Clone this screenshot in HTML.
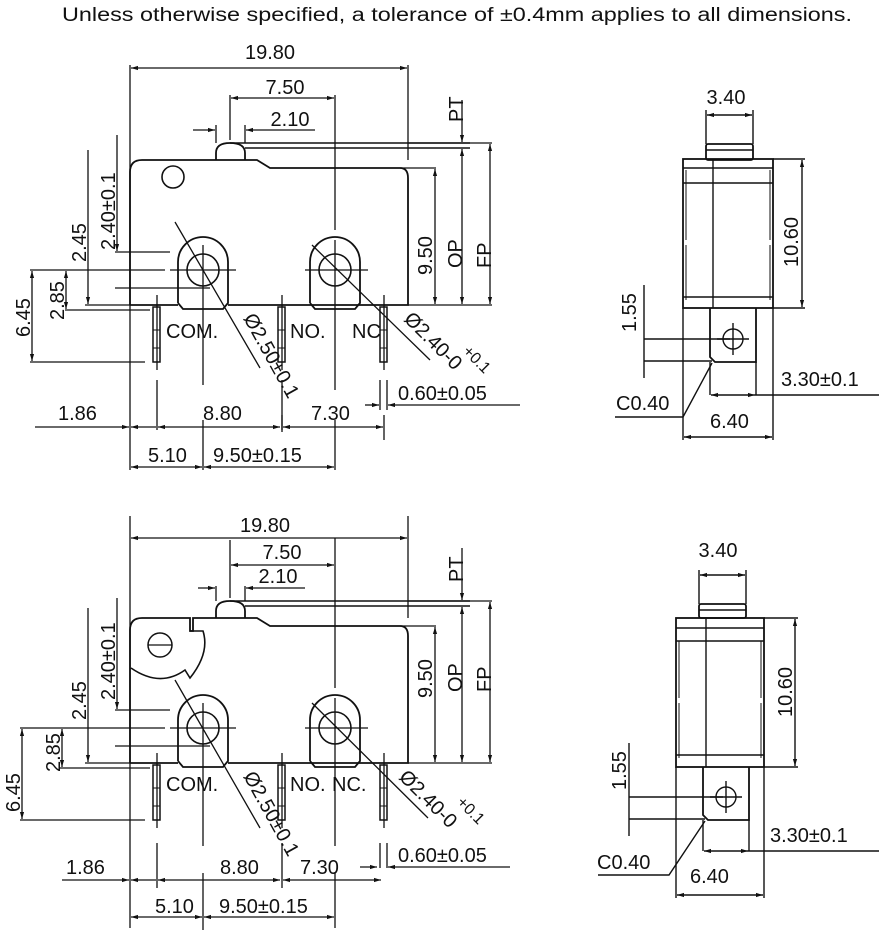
<!DOCTYPE html>
<html><head><meta charset="utf-8"><style>
html,body{margin:0;padding:0;background:#fff}
svg{display:block}
text{font-family:"Liberation Sans",sans-serif;font-size:20px;fill:#111}
</style></head><body>
<svg width="879" height="930" viewBox="0 0 879 930" xmlns="http://www.w3.org/2000/svg">
<defs>
<marker id="a" viewBox="0 0 10 10" refX="10" refY="5" markerWidth="7" markerHeight="7" orient="auto-start-reverse" markerUnits="userSpaceOnUse"><path d="M0,2 L10,5 L0,8 Z" fill="#111"/></marker>
</defs>
<text x="457" y="21" text-anchor="middle" style="font-size:19px" textLength="790" lengthAdjust="spacingAndGlyphs">Unless otherwise specified, a tolerance of ±0.4mm applies to all dimensions.</text>

<!-- ============ TOP LEFT ============ -->
<g stroke="#111" stroke-width="1.3" fill="none">
 <path d="M130,305 L130,172 Q130,160 142,160 L257,160 L270,168 L400,168 Q408,168 408,178 L408,305 L228,305 M178,305 L130,305" stroke-width="1.8"/>
 <path d="M216,160 L216,153 Q216,143 230,143 Q245,143 245,153 L245,160" stroke-width="1.8"/>
 <path d="M230,143 L470,143 M245,148 L470,148" stroke-width="1.5"/>
 <circle cx="173" cy="177" r="11" stroke-width="1.6"/>
 <path d="M178,303 L178,262 A25,25 0 0 1 228,262 L228,303 L223,309 L183,309 L178,303" stroke-width="1.8"/>
 <circle cx="203" cy="270" r="16" stroke-width="1.6"/>
 <path d="M310,303 L310,262 A25,25 0 0 1 360,262 L360,303 L355,309 L315,309 L310,303" stroke-width="1.8"/>
 <circle cx="335" cy="270" r="16" stroke-width="1.6"/>
 <rect x="153" y="307" width="7" height="55" stroke-width="1.5"/>
 <rect x="278" y="307" width="7" height="55" stroke-width="1.5"/>
 <rect x="380" y="307" width="7" height="55" stroke-width="1.5"/>
 <path d="M153,330 h7 M153,348 h7 M278,330 h7 M278,348 h7 M380,330 h7 M380,348 h7" stroke-width="1"/>
 <path d="M157,295 v75 M157,380 v50 M282,295 v75 M282,380 v50 M384,295 v75 M380,380 v30 M387,380 v30"/>
 <path d="M203,245 V385 M335,95 V230 M335,240 V390 M203,420 V470 M335,420 V470 M170,270 H236 M305,270 H368"/>
 <path d="M130,65 V470 M408,65 V160"/>
 <path d="M131,68 H407" marker-start="url(#a)" marker-end="url(#a)"/>
 <path d="M230,95 V140" />
 <path d="M231,98 H334" marker-start="url(#a)" marker-end="url(#a)"/>
 <path d="M216,125 V143 M245,125 V143 M193,130 H215" marker-end="url(#a)"/>
 <path d="M315,130 H246" marker-end="url(#a)"/>
 <path d="M400,168 H436 M408,305 H492 M408,143 H492"/>
 <path d="M435,169 V304" marker-start="url(#a)" marker-end="url(#a)"/>
 <path d="M462,100 V142" marker-end="url(#a)"/>
 <path d="M462,149 V304" marker-start="url(#a)" marker-end="url(#a)"/>
 <path d="M490,144 V304" marker-start="url(#a)" marker-end="url(#a)"/>
 <path d="M115,252 H170 M115,288 H210 M85,305 H130 M65,310 H150 M30,270 H165 M30,362 H145"/>
 <path d="M117,135 V251" marker-end="url(#a)"/>
 <path d="M88,150 V304" marker-end="url(#a)"/>
 <path d="M66,271 V309" marker-start="url(#a)" marker-end="url(#a)"/>
 <path d="M32,271 V361" marker-start="url(#a)" marker-end="url(#a)"/>
 <path d="M35,427 H129" marker-end="url(#a)"/>
 <path d="M156,427 H131" marker-end="url(#a)"/>
 <path d="M158,427 H280" marker-start="url(#a)" marker-end="url(#a)"/>
 <path d="M283,427 H383" marker-start="url(#a)" marker-end="url(#a)"/>
 <path d="M365,405 H379" marker-end="url(#a)"/>
 <path d="M520,405 H388" marker-end="url(#a)"/>
 <path d="M131,467 H202" marker-start="url(#a)" marker-end="url(#a)"/>
 <path d="M204,467 H334" marker-start="url(#a)" marker-end="url(#a)"/>
 <path d="M282,415 V432 M384,415 V440"/>
 <path d="M175,222 L260,368 M312,245 L430,360"/>
</g>
<g>
 <text x="270" y="59" text-anchor="middle">19.80</text>
 <text x="285" y="94" text-anchor="middle">7.50</text>
 <text x="290" y="126" text-anchor="middle">2.10</text>
 <text transform="translate(463,122) rotate(-90)" >PT</text>
 <text transform="translate(432,275) rotate(-90)">9.50</text>
 <text transform="translate(462,268) rotate(-90)">OP</text>
 <text transform="translate(491,268) rotate(-90)">FP</text>
 <text transform="translate(115,250) rotate(-90)">2.40±0.1</text>
 <text transform="translate(86,262) rotate(-90)">2.45</text>
 <text transform="translate(64,320) rotate(-90)">2.85</text>
 <text transform="translate(30,337) rotate(-90)">6.45</text>
 <text x="166" y="338">COM.</text>
 <text x="290" y="338">NO.</text>
 <text x="352" y="338">NC</text>
 <text transform="translate(243,318) rotate(61)">Ø2.50±0.1</text>
 <text transform="translate(403,320) rotate(45)">Ø2.40-0</text>
 <text transform="translate(462,352) rotate(45)" style="font-size:16px">+0.1</text>
 <text x="58" y="420">1.86</text>
 <text x="203" y="420">8.80</text>
 <text x="311" y="420">7.30</text>
 <text x="398" y="400">0.60±0.05</text>
 <text x="148" y="462">5.10</text>
 <text x="213" y="462">9.50±0.15</text>
</g>

<!-- ============ TOP RIGHT ============ -->
<g stroke="#111" stroke-width="1.4" fill="none">
 <rect x="706" y="144" width="47" height="16" rx="2" stroke-width="1.8"/>
 <path d="M706,150 H753"/>
 <rect x="683" y="159" width="90" height="149" stroke-width="1.8"/>
 <path d="M683,168 H773 M683,183 H773 M683,297 H773 M713,159 V308"/>
 <path d="M686,170 V240 M770,170 V240 M686,245 V300 M770,245 V300" stroke-width="1"/>
 <path d="M710,308 V357 L715,362 H756 V308" stroke-width="1.8"/>
 <circle cx="733" cy="339" r="10"/>
 <path d="M733,323 V355 M717,339 H749"/>
 <path d="M706,110 V144 M753,110 V144"/>
 <path d="M707,115 H752" marker-start="url(#a)" marker-end="url(#a)"/>
 <path d="M773,159 H805 M773,308 H805"/>
 <path d="M802,160 V307" marker-start="url(#a)" marker-end="url(#a)"/>
 <path d="M644,285 V378 M644,339 H730 M644,361 H712"/>
 <path d="M710,362 V395 M756,362 V395 M773,308 V440 M683,308 V440"/>
 <path d="M711,395 H755" marker-start="url(#a)" marker-end="url(#a)"/>
 <path d="M755,395 H880"/>
 <path d="M684,437 H772" marker-start="url(#a)" marker-end="url(#a)"/>
 <path d="M615,417 H683 L712,363"/>
</g>
<g>
 <text x="726" y="104" text-anchor="middle">3.40</text>
 <text transform="translate(798,267) rotate(-90)">10.60</text>
 <text transform="translate(636,332) rotate(-90)">1.55</text>
 <text x="781" y="386">3.30±0.1</text>
 <text x="616" y="410">C0.40</text>
 <text x="710" y="428">6.40</text>
</g>

<!-- ============ BOTTOM LEFT ============ -->
<g stroke="#111" stroke-width="1.3" fill="none" transform="translate(0,458)">
 <path d="M130,305 L130,172 Q130,160 142,160 L190,160 L190,173 L193,173 L193,160 L257,160 L270,168 L400,168 Q408,168 408,178 L408,305 L228,305 M178,305 L130,305" stroke-width="1.8"/>
 <path d="M190,173 L203,173 Q210,195 190,220 L185,212 Q160,230 131,210" stroke-width="1.6"/>
 <circle cx="160" cy="187" r="12" stroke-width="1.5"/>
 <path d="M148,187 H172" stroke-width="1.3"/>
 <path d="M216,160 L216,153 Q216,143 230,143 Q245,143 245,153 L245,160" stroke-width="1.8"/>
 <path d="M230,143 L470,143 M245,148 L470,148" stroke-width="1.5"/>
 <path d="M178,303 L178,262 A25,25 0 0 1 228,262 L228,303 L223,309 L183,309 L178,303" stroke-width="1.8"/>
 <circle cx="203" cy="270" r="16" stroke-width="1.6"/>
 <path d="M310,303 L310,262 A25,25 0 0 1 360,262 L360,303 L355,309 L315,309 L310,303" stroke-width="1.8"/>
 <circle cx="335" cy="270" r="16" stroke-width="1.6"/>
 <rect x="153" y="307" width="7" height="55" stroke-width="1.5"/>
 <rect x="278" y="307" width="7" height="55" stroke-width="1.5"/>
 <rect x="380" y="307" width="7" height="55" stroke-width="1.5"/>
 <path d="M153,330 h7 M153,348 h7 M278,330 h7 M278,348 h7 M380,330 h7 M380,348 h7" stroke-width="1"/>
 <path d="M157,295 v75 M157,385 v45 M282,295 v75 M282,385 v45 M384,295 v75 M380,385 v25 M387,385 v25"/>
 <path d="M203,245 V388 M335,80 V230 M335,240 V388 M203,415 V475 M335,415 V470 M170,270 H236 M305,270 H368"/>
 <path d="M130,58 V470 M408,58 V160 M230,82 V140 M216,128 V143 M245,128 V143"/>
 <path d="M400,168 H436 M408,305 H492 M408,143 H492"/>
 <path d="M435,169 V304" marker-start="url(#a)" marker-end="url(#a)"/>
 <path d="M462,90 V142" marker-end="url(#a)"/>
 <path d="M462,149 V304" marker-start="url(#a)" marker-end="url(#a)"/>
 <path d="M490,144 V304" marker-start="url(#a)" marker-end="url(#a)"/>
 <path d="M115,252 H170 M115,288 H210 M85,305 H130 M60,310 H150 M20,270 H165 M20,362 H145"/>
 <path d="M117,140 V251" marker-end="url(#a)"/>
 <path d="M88,150 V304" marker-end="url(#a)"/>
 <path d="M62,271 V309" marker-start="url(#a)" marker-end="url(#a)"/>
 <path d="M22,271 V361" marker-start="url(#a)" marker-end="url(#a)"/>
 <path d="M175,222 L260,370 M312,245 L428,360"/>
</g>
<g stroke="#111" stroke-width="1.3" fill="none">
 <path d="M131,538 H407" marker-start="url(#a)" marker-end="url(#a)"/>
 <path d="M231,565 H334" marker-start="url(#a)" marker-end="url(#a)"/>
 <path d="M198,588 H215" marker-end="url(#a)"/>
 <path d="M305,588 H246" marker-end="url(#a)"/>
 <path d="M62,880 H129" marker-end="url(#a)"/>
 <path d="M156,880 H131" marker-end="url(#a)"/>
 <path d="M158,880 H280" marker-start="url(#a)" marker-end="url(#a)"/>
 <path d="M283,880 H381" marker-start="url(#a)" marker-end="url(#a)"/>
 <path d="M360,867 H377" marker-end="url(#a)"/>
 <path d="M510,867 H388" marker-end="url(#a)"/>
 <path d="M131,917 H202" marker-start="url(#a)" marker-end="url(#a)"/>
 <path d="M204,917 H334" marker-start="url(#a)" marker-end="url(#a)"/>
</g>
<g>
 <text x="265" y="532" text-anchor="middle">19.80</text>
 <text x="282" y="559" text-anchor="middle">7.50</text>
 <text x="278" y="583" text-anchor="middle">2.10</text>
 <text transform="translate(463,582) rotate(-90)">PT</text>
 <text transform="translate(432,698) rotate(-90)">9.50</text>
 <text transform="translate(462,692) rotate(-90)">OP</text>
 <text transform="translate(491,692) rotate(-90)">FP</text>
 <text transform="translate(115,700) rotate(-90)">2.40±0.1</text>
 <text transform="translate(86,720) rotate(-90)">2.45</text>
 <text transform="translate(60,772) rotate(-90)">2.85</text>
 <text transform="translate(20,812) rotate(-90)">6.45</text>
 <text x="166" y="791">COM.</text>
 <text x="290" y="791">NO.</text>
 <text x="332" y="791">NC.</text>
 <text transform="translate(243,776) rotate(61)">Ø2.50±0.1</text>
 <text transform="translate(398,778) rotate(45)">Ø2.40-0</text>
 <text transform="translate(456,803) rotate(45)" style="font-size:16px">+0.1</text>
 <text x="66" y="874">1.86</text>
 <text x="220" y="874">8.80</text>
 <text x="300" y="874">7.30</text>
 <text x="398" y="862">0.60±0.05</text>
 <text x="155" y="913">5.10</text>
 <text x="219" y="913">9.50±0.15</text>
</g>

<!-- ============ BOTTOM RIGHT ============ -->
<g stroke="#111" stroke-width="1.4" fill="none" transform="translate(-7,458)">
 <rect x="706" y="146" width="47" height="14" rx="2" stroke-width="1.8"/>
 <path d="M706,152 H753"/>
 <rect x="683" y="160" width="88" height="149" stroke-width="1.8"/>
 <path d="M683,170 H771 M683,183 H771 M683,297 H771 M713,160 V309"/>
 <path d="M686,183 V240 M768,183 V240 M686,245 V300 M768,245 V300" stroke-width="1"/>
 <path d="M710,309 V357 L715,362 H756 V309" stroke-width="1.8"/>
 <circle cx="733" cy="339" r="10"/>
 <path d="M733,323 V355 M717,339 H749"/>
 <path d="M706,112 V146 M753,112 V146"/>
 <path d="M707,117 H752" marker-start="url(#a)" marker-end="url(#a)"/>
 <path d="M771,160 H805 M771,309 H805"/>
 <path d="M802,161 V308" marker-start="url(#a)" marker-end="url(#a)"/>
 <path d="M636,285 V378 M636,339 H730 M636,361 H712"/>
 <path d="M710,362 V393 M756,362 V393 M771,309 V440 M683,309 V440"/>
 <path d="M711,393 H755" marker-start="url(#a)" marker-end="url(#a)"/>
 <path d="M755,393 H890"/>
 <path d="M684,437 H770" marker-start="url(#a)" marker-end="url(#a)"/>
 <path d="M605,417 H676 L712,363"/>
</g>
<g>
 <text x="718" y="557" text-anchor="middle">3.40</text>
 <text transform="translate(792,717) rotate(-90)">10.60</text>
 <text transform="translate(626,790) rotate(-90)">1.55</text>
 <text x="770" y="842">3.30±0.1</text>
 <text x="597" y="869">C0.40</text>
 <text x="690" y="883">6.40</text>
</g>
</svg>
</body></html>
